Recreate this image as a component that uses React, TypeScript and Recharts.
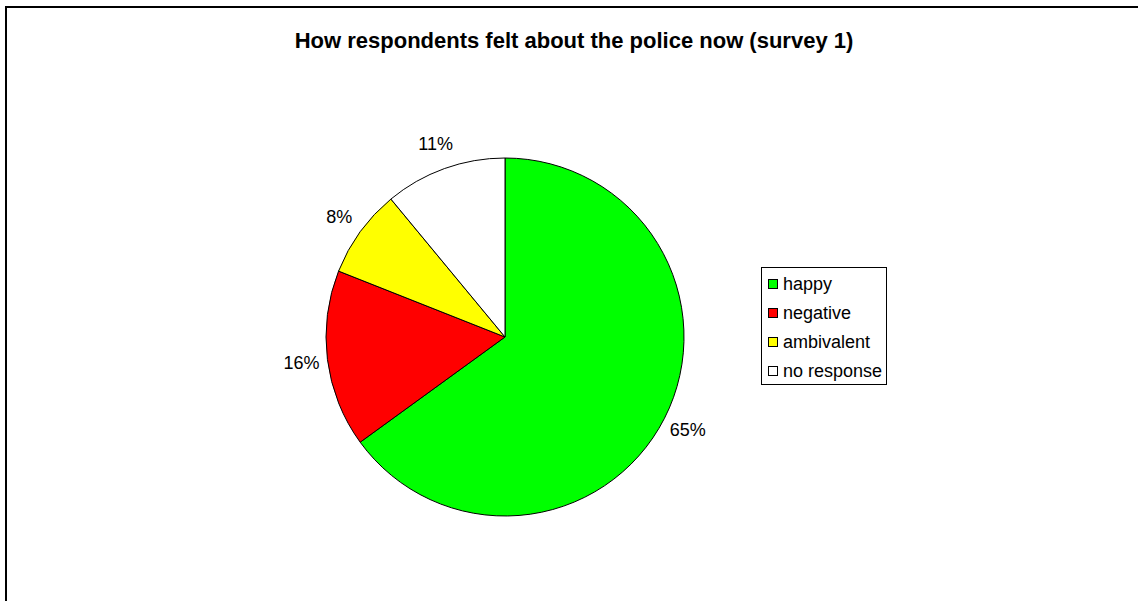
import React from 'react';
import { PieChart, Pie, Cell, Legend } from 'recharts';

const categories = ['happy', 'negative', 'ambivalent', 'no response'];
const values = [65, 16, 8, 11];
const colors = ['#00FF00', '#FF0000', '#FFFF00', '#FFFFFF'];
const title = 'How respondents felt about the police now (survey 1)';

const data = categories.map((name, i) => ({ name, value: values[i] }));

const FONT = '"Liberation Sans", Arial, sans-serif';
const RADIAN = Math.PI / 180;

const renderLabel = (props: any) => {
  const { cx, cy, midAngle, outerRadius, value } = props;
  const r = outerRadius + 26;
  const x = cx + r * Math.cos(-midAngle * RADIAN);
  const y = cy + r * Math.sin(-midAngle * RADIAN);
  return (
    <text x={x} y={y} textAnchor="middle" dominantBaseline="central" fill="#000" fontSize={18} fontFamily={FONT}>
      {`${value}%`}
    </text>
  );
};

const LegendContent = () => (
  <div
    style={{
      width: 126,
      height: 118,
      border: '1px solid #000',
      background: '#fff',
      paddingTop: 1,
      paddingLeft: 6,
      fontFamily: FONT,
      fontSize: 18,
      color: '#000',
      boxSizing: 'border-box',
      whiteSpace: 'nowrap',
    }}
  >
    {categories.map((c, i) => (
      <div key={c} style={{ display: 'flex', alignItems: 'center', height: 29 }}>
        <span
          style={{
            display: 'inline-block',
            width: 10,
            height: 10,
            border: '1px solid #000',
            background: colors[i],
            marginRight: 5,
            boxSizing: 'border-box',
            flex: '0 0 auto',
          }}
        />
        <span style={{ lineHeight: '20px' }}>{c}</span>
      </div>
    ))}
  </div>
);

export default function App() {
  return (
    <div style={{ position: 'fixed', left: 0, top: 0, width: 1138, height: 601, overflow: 'hidden', background: '#fff' }}>
      <div
        style={{
          position: 'absolute',
          left: 5,
          top: 6,
          width: 1200,
          height: 700,
          border: '2px solid #000',
          boxSizing: 'border-box',
        }}
      />
      <svg style={{ position: 'absolute', left: 0, top: 0 }} width={1138} height={80}>
        <text x={574} y={48} textAnchor="middle" fontFamily={FONT} fontWeight="bold" fontSize={22} fill="#000">
          {title}
        </text>
      </svg>
      <div style={{ position: 'absolute', left: 0, top: 0 }}>
        <PieChart width={1138} height={601}>
          <Pie
            data={data}
            dataKey="value"
            nameKey="name"
            cx={500}
            cy={332}
            outerRadius={179}
            startAngle={90}
            endAngle={-270}
            stroke="#000"
            strokeWidth={1}
            label={renderLabel}
            labelLine={false}
            isAnimationActive={false}
          >
            {data.map((d, i) => (
              <Cell key={d.name} fill={colors[i]} />
            ))}
          </Pie>
          <Legend
            content={<LegendContent />}
            wrapperStyle={{ position: 'absolute', left: 761, top: 267, width: 'auto', height: 'auto' }}
          />
        </PieChart>
      </div>
    </div>
  );
}
